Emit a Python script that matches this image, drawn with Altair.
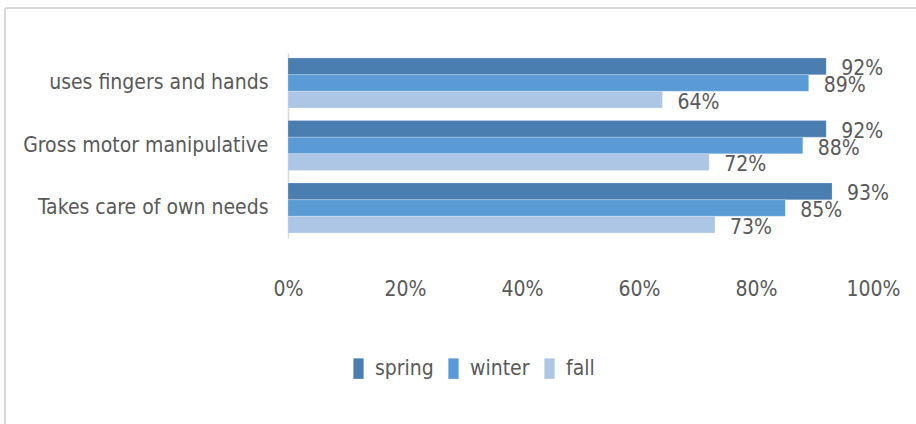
import altair as alt
import pandas as pd

categories = ["uses fingers and hands", "Gross motor manipulative", "Takes care of own needs"]
series = ["spring", "winter", "fall"]
spring = [0.92, 0.92, 0.93]
winter = [0.89, 0.88, 0.85]
fall = [0.64, 0.72, 0.73]
x_ticks = [0, 0.2, 0.4, 0.6, 0.8, 1.0]
colors = ["#4a7eb1", "#5b9bd5", "#adc6e6"]

rows = []
for i, c in enumerate(categories):
    for s, vals in zip(series, [spring, winter, fall]):
        rows.append({"category": c, "season": s, "value": vals[i]})
df = pd.DataFrame(rows)

FONT = "'DejaVu Sans Condensed', Lato"
GRAY = "#595959"
FS = 21

y_enc = alt.Y("category:N", sort=categories, title=None,
              scale=alt.Scale(paddingInner=0.2, paddingOuter=0.08),
              axis=alt.Axis(domainColor="#d9d9d9", domainWidth=1.5, ticks=False,
                            labelFontSize=FS, labelFont=FONT, labelColor=GRAY,
                            labelPadding=20, labelLimit=400))
x_enc = alt.X("value:Q", title=None,
              scale=alt.Scale(domain=[0, 1], nice=False),
              axis=alt.Axis(values=x_ticks, format=".0%", domain=False, ticks=False,
                            grid=False, labelFontSize=FS, labelFont=FONT,
                            labelColor=GRAY, labelPadding=40, labelFlush=False))
yoff = alt.YOffset("season:N", sort=series, scale=alt.Scale(paddingInner=0, paddingOuter=0))

bars = alt.Chart(df).mark_bar(stroke="white", strokeWidth=0.5, strokeOpacity=0.4).encode(
    y=y_enc,
    x=x_enc,
    yOffset=yoff,
    color=alt.Color("season:N", sort=series,
                    scale=alt.Scale(domain=series, range=colors),
                    legend=alt.Legend(orient="none", legendX=60, legendY=305,
                                      direction="horizontal", title=None,
                                      symbolType="M-0.5,-1H0.5V1H-0.5Z",
                                      symbolSize=420, symbolStrokeWidth=0,
                                      labelFontSize=FS, labelFont=FONT,
                                      labelColor=GRAY, labelOffset=6,
                                      columnPadding=9)),
)

labels = alt.Chart(df).mark_text(align="left", baseline="middle", dx=15, dy=3,
                                 fontSize=FS, font=FONT, color=GRAY).encode(
    y=alt.Y("category:N", sort=categories),
    x=alt.X("value:Q"),
    yOffset=yoff,
    text=alt.Text("value:Q", format=".0%"),
)

border_top = alt.Chart(df).mark_rule(color="#d9d9d9", strokeWidth=2).encode(
    x=alt.value(-283), x2=alt.value(700), y=alt.value(-45))
border_left = alt.Chart(df).mark_rule(color="#d9d9d9", strokeWidth=2).encode(
    x=alt.value(-283), y=alt.value(-45), y2=alt.value(400))

chart = alt.layer(border_top, border_left, bars, labels).properties(
    width=585, height=185,
    background="white",
    autosize=alt.AutoSizeParams(type="none"),
    padding={"left": 288, "top": 53, "right": 43, "bottom": 186},
).configure_view(strokeWidth=0, stroke="transparent")

chart.save("out.html", embed_options={"renderer": "svg", "actions": False})
